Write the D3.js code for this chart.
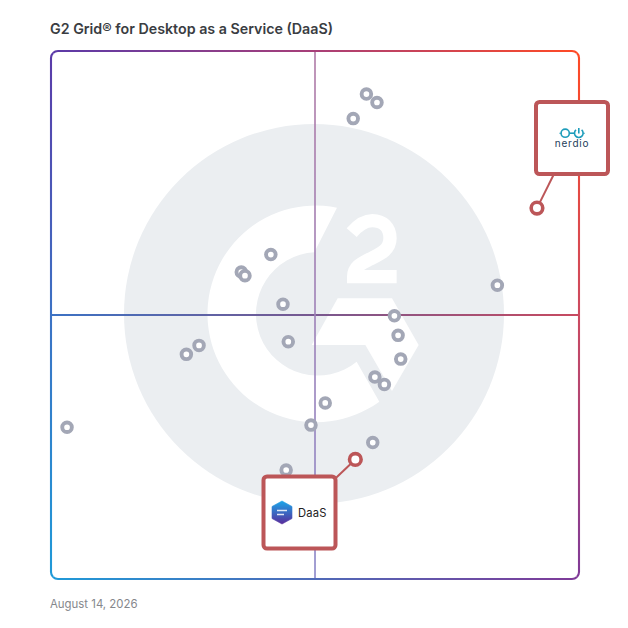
<!DOCTYPE html>
<html><head><meta charset="utf-8">
<script src="https://cdn.jsdelivr.net/npm/d3@7"></script>
<style>html,body{margin:0;padding:0;background:#fff}svg{display:block}text{font-family:Inter,"Noto Sans",sans-serif}</style>
</head><body><div id="c"></div>
<script>
const titleText = "G2 Grid® for Desktop as a Service (DaaS)";
const dateText = "August 14, 2026";
const pointX = [59.7,61.7,57.2,84.5,41.6,36.0,36.7,43.9,65.0,65.7,66.2,44.9,28.0,25.6,61.3,63.1,51.9,49.2,60.9,44.5,3.0];
const pointY = [91.9,90.3,87.25,55.7,61.5,58.2,57.5,52.1,49.9,46.2,41.7,45.0,44.3,42.6,38.3,36.9,33.4,29.2,25.9,20.7,28.8];
const featuredNames = ["nerdio","DaaS"];
const featuredX = [92.0,57.6];
const featuredY = [70.3,22.7];

const W=628,H=628,L=51,R=579,T=51,B=579,MID=315;
const svg=d3.select("#c").append("svg").attr("width",W).attr("height",H);
const x=d3.scaleLinear().domain([0,100]).range([51.2,579.2]);
const y=d3.scaleLinear().domain([0,100]).range([579.3,51.3]);
const defs=svg.append("defs");
const C={tl:"#5b3aa8",tr:"#ff4a25",br:"#7f3a98",bl:"#1f9ad8"};
function grad(id,x1,y1,x2,y2,stops){
  const g=defs.append("linearGradient").attr("id",id).attr("gradientUnits","userSpaceOnUse")
    .attr("x1",x1).attr("y1",y1).attr("x2",x2).attr("y2",y2);
  stops.forEach((c,i)=>g.append("stop").attr("offset",i/(stops.length-1)).attr("stop-color",c));
}
grad("gT",L,0,R,0,[C.tl,"#a83f78",C.tr]);grad("gB",L,0,R,0,[C.bl,"#4f6ab8",C.br]);
grad("gL",0,T,0,B,[C.tl,"#3c72c4",C.bl]);grad("gR",0,T,0,B,[C.tr,"#cc4a60",C.br]);
grad("gH",L,0,R,0,["#3c72c4","#78588f","#c84a60"]);grad("gV",0,T,0,B,["#b07aa6","#8a86c8"]);
grad("gHex",0,-12,0,12,["#1aa8ea","#5a2a9a"]);

// watermark
const logo=svg.append("g");
logo.append("circle").attr("cx",314).attr("cy",314).attr("r",190).attr("fill","#ebeef1");
const m=logo.append("g").attr("transform","translate(110,110) scale(0.33333)").attr("fill","#fff");
m.append("path").attr("d","M681,293 A325,325 0 1 0 808,875 L740,755 A185,185 0 1 1 613,427 Z");
m.append("path").attr("d","M683,565 L846,565 L926,705 L846,843 L766,705 L605,705 Z");
m.append("path").attr("fill","none").attr("stroke","#fff").attr("stroke-width",40)
  .attr("d","M725,368 C745,345 765,332 787,332 C818,332 840,352 840,385 C840,420 810,432 780,447 C750,462 731,472 731,500 L860,500");

// axes
svg.append("line").attr("x1",L).attr("x2",R).attr("y1",MID).attr("y2",MID+.01).attr("stroke","url(#gH)").attr("stroke-width",2);
svg.append("line").attr("y1",T).attr("y2",B).attr("x1",MID).attr("x2",MID+.01).attr("stroke","url(#gV)").attr("stroke-width",1.6);

// frame
const r=7,k=r*0.2929;
const fr=svg.append("g").attr("fill","none").attr("stroke-width",2.1);
fr.append("path").attr("stroke","url(#gT)").attr("d",`M${L+k},${T+k} A${r},${r} 0 0 1 ${L+r},${T} L${R-r},${T} A${r},${r} 0 0 1 ${R-k},${T+k}`);
fr.append("path").attr("stroke","url(#gR)").attr("d",`M${R-k},${T+k} A${r},${r} 0 0 1 ${R},${T+r} L${R},${B-r} A${r},${r} 0 0 1 ${R-k},${B-k}`);
fr.append("path").attr("stroke","url(#gB)").attr("d",`M${R-k},${B-k} A${r},${r} 0 0 1 ${R-r},${B} L${L+r},${B} A${r},${r} 0 0 1 ${L+k},${B-k}`);
fr.append("path").attr("stroke","url(#gL)").attr("d",`M${L+k},${B-k} A${r},${r} 0 0 1 ${L},${B-r} L${L},${T+r} A${r},${r} 0 0 1 ${L+k},${T+k}`);

// points
svg.append("g").selectAll("circle").data(pointX.map((d,i)=>[d,pointY[i]])).join("circle")
  .attr("cx",d=>x(d[0])).attr("cy",d=>y(d[1])).attr("r",4.8)
  .attr("fill","#fff").attr("stroke","#a3a7b6").attr("stroke-width",3.9);

// featured
const red="#bc5658";
const boxes=[{cx:572,cy:138},{cx:299.5,cy:512.5}];
const feat=featuredNames.map((n,i)=>({n,px:x(featuredX[i]),py:y(featuredY[i]),...boxes[i]}));
svg.append("g").selectAll("line").data(feat).join("line")
  .attr("x1",d=>d.px).attr("y1",d=>d.py).attr("x2",d=>d.cx).attr("y2",d=>d.cy)
  .attr("stroke",red).attr("stroke-width",2);
svg.append("g").selectAll("rect").data(feat).join("rect")
  .attr("x",d=>d.cx-36).attr("y",d=>d.cy-36).attr("width",72).attr("height",72).attr("rx",3.5)
  .attr("fill","#fff").attr("stroke",red).attr("stroke-width",4);
svg.append("g").selectAll("circle").data(feat).join("circle")
  .attr("cx",d=>d.px).attr("cy",d=>d.py).attr("r",5.8)
  .attr("fill","#fff").attr("stroke",red).attr("stroke-width",3.6);

// nerdio logo
const n=svg.append("g").attr("transform","translate(572,138)");
const teal="#1f9dbb";
const sw=1.6;
n.append("circle").attr("cx",-6.8).attr("cy",-4.8).attr("r",4.1).attr("fill","none").attr("stroke",teal).attr("stroke-width",sw);
n.append("path").attr("d","M-2.7,-4.8 L2,-4.8").attr("stroke",teal).attr("stroke-width",sw);
n.append("path").attr("d","M4,-8.1 A4.3,4.3 0 1 0 9.6,-8.1").attr("fill","none").attr("stroke",teal).attr("stroke-width",sw);
n.append("path").attr("d","M6.8,-10 L6.8,-4.6").attr("stroke",teal).attr("stroke-width",sw);
n.append("path").attr("d","M-12.6,-4.8 L-10.9,-4.8 M11.1,-4.8 L12.8,-4.8").attr("stroke",teal).attr("stroke-width",1.1);
n.append("text").attr("x",0).attr("y",9).attr("text-anchor","middle").attr("font-size",10).attr("letter-spacing",.75).attr("fill","#24405a").text(featuredNames[0]);

// DaaS logo
const dg=svg.append("g").attr("transform","translate(282,512.5)");
dg.append("path").attr("d","M0,-11.5 L10,-6 L10,6 L0,11.5 L-10,6 L-10,-6 Z").attr("fill","url(#gHex)").attr("stroke","url(#gHex)").attr("stroke-width",.6).attr("stroke-linejoin","round");
dg.append("path").attr("d","M-5,-2 L5,-2 M-5,2 L2,2").attr("stroke","#fff").attr("stroke-width",1.4).attr("opacity",.85);
svg.append("text").attr("x",298).attr("y",517).attr("font-size",11.2).attr("letter-spacing",.2).attr("fill","#222").text(featuredNames[1]);

// text
svg.append("text").attr("x",50).attr("y",34).attr("font-size",14.25).attr("font-weight",600).attr("fill","#3a3d42").text(titleText);
svg.append("text").attr("x",50).attr("y",608).attr("font-size",11.4).attr("fill","#85878c").text(dateText);
</script></body></html>
